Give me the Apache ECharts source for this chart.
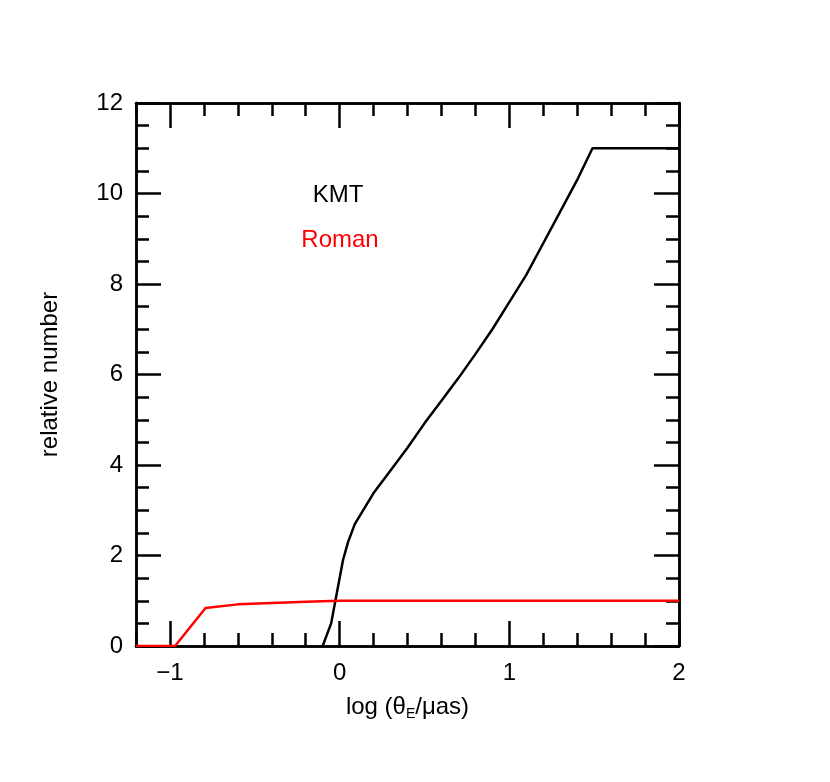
<!DOCTYPE html>
<html>
<head>
<meta charset="utf-8">
<script src="https://cdn.jsdelivr.net/npm/echarts@6/dist/echarts.min.js"></script>
<style>
html,body{margin:0;padding:0;background:#fff;}
#chart{width:830px;height:782px;}
</style>
</head>
<body>
<div id="chart"></div>
<script>
var kmtX = [-0.1, -0.05, -0.02, 0.02, 0.05, 0.09, 0.2, 0.3, 0.4, 0.5, 0.6, 0.7, 0.8, 0.9, 1.0, 1.1, 1.2, 1.3, 1.4, 1.49, 2.0];
var kmtY = [0, 0.5, 1.1, 1.9, 2.3, 2.7, 3.38, 3.88, 4.38, 4.92, 5.42, 5.92, 6.45, 7.0, 7.6, 8.2, 8.9, 9.6, 10.3, 11.0, 11.0];
var romanX = [-1.2, -0.97, -0.79, -0.6, -0.4, -0.2, 0, 2.0];
var romanY = [0, 0, 0.84, 0.92, 0.95, 0.98, 1.0, 1.0];
var xMajor = [-1, 0, 1, 2];
var xMinor = [-1.2, -0.8, -0.6, -0.4, -0.2, 0.2, 0.4, 0.6, 0.8, 1.2, 1.4, 1.6, 1.8];
var yMajor = [0, 2, 4, 6, 8, 10, 12];
var yMinor = [0.5, 1, 1.5, 2.5, 3, 3.5, 4.5, 5, 5.5, 6.5, 7, 7.5, 8.5, 9, 9.5, 10.5, 11, 11.5];

function pairs(xs, ys){
	var out = [];
	for(var i = 0 ; i < xs.length ; i++ ){
		out.push([xs[i], ys[i]]);
	}
	return out;
}
function minus(v){
	return v < 0 ? '\u2212' + Math.abs(v) : String(v);
}

var font = 'Liberation Sans, Arial, sans-serif';
var lineStyle = {color:'#000', width:2.5};

function xAx(pos, ticks, len, labels){
	return {
		type:'value', position:pos, min:-1.2, max:2,
		axisLine:{show:true, onZero:false, lineStyle:lineStyle},
		axisTick:{show:true, inside:true, length:len, customValues:ticks, lineStyle:lineStyle},
		axisLabel:labels ? {show:true, customValues:xMajor, formatter:minus, margin:15,
			color:'#000', fontSize:24, fontFamily:font} : {show:false},
		splitLine:{show:false}
	};
}
function yAx(pos, ticks, len, labels){
	return {
		type:'value', position:pos, min:0, max:12,
		axisLine:{show:true, onZero:false, lineStyle:lineStyle},
		axisTick:{show:true, inside:true, length:len, customValues:ticks, lineStyle:lineStyle},
		axisLabel:labels ? {show:true, customValues:yMajor, margin:13,
			color:'#000', fontSize:24, fontFamily:font} : {show:false},
		splitLine:{show:false}
	};
}

var xAxes = [xAx('bottom', xMajor, 25, true), xAx('bottom', xMinor, 13, false),
	xAx('top', xMajor, 25, false), xAx('top', xMinor, 13, false)];
xAxes[0].name = '{a|log (\u03b8}{s|E}{a|/\u03bcas)}';
xAxes[0].nameLocation = 'middle';
xAxes[0].nameGap = 48;
xAxes[0].nameTextStyle = {
	rich:{
		a:{fontSize:24, fontFamily:font, color:'#000'},
		s:{fontSize:14, fontFamily:font, color:'#000', verticalAlign:'bottom', padding:[13,0,0,0]}
	}
};
var yAxes = [yAx('left', yMajor, 25, true), yAx('left', yMinor, 13, false),
	yAx('right', yMajor, 25, false), yAx('right', yMinor, 13, false)];
yAxes[0].name = 'relative number';
yAxes[0].nameLocation = 'middle';
yAxes[0].nameGap = 74;
yAxes[0].nameTextStyle = {fontSize:24, fontFamily:font, color:'#000'};

var myChart = echarts.init(document.getElementById('chart'), null, {renderer:'canvas'});
var option = {
	backgroundColor:'#fff',
	animation:false,
	grid:{left:136, top:103, width:543, height:543},
	xAxis:xAxes,
	yAxis:yAxes,
	graphic:[
		{type:'text', x:338, y:195, style:{text:'KMT', fill:'#000', font:'24px ' + font, align:'center', verticalAlign:'middle'}},
		{type:'text', x:340, y:240, style:{text:'Roman', fill:'#ff0000', font:'24px ' + font, align:'center', verticalAlign:'middle'}}
	],
	series:[
		{type:'line', name:'KMT', data:pairs(kmtX, kmtY), showSymbol:false, smooth:false,
			lineStyle:{color:'#000', width:2.5}, z:3},
		{type:'line', name:'Roman', data:pairs(romanX, romanY), showSymbol:false, smooth:false,
			lineStyle:{color:'#ff0000', width:2.5}, z:4}
	]
};
myChart.setOption(option);
</script>
</body>
</html>
